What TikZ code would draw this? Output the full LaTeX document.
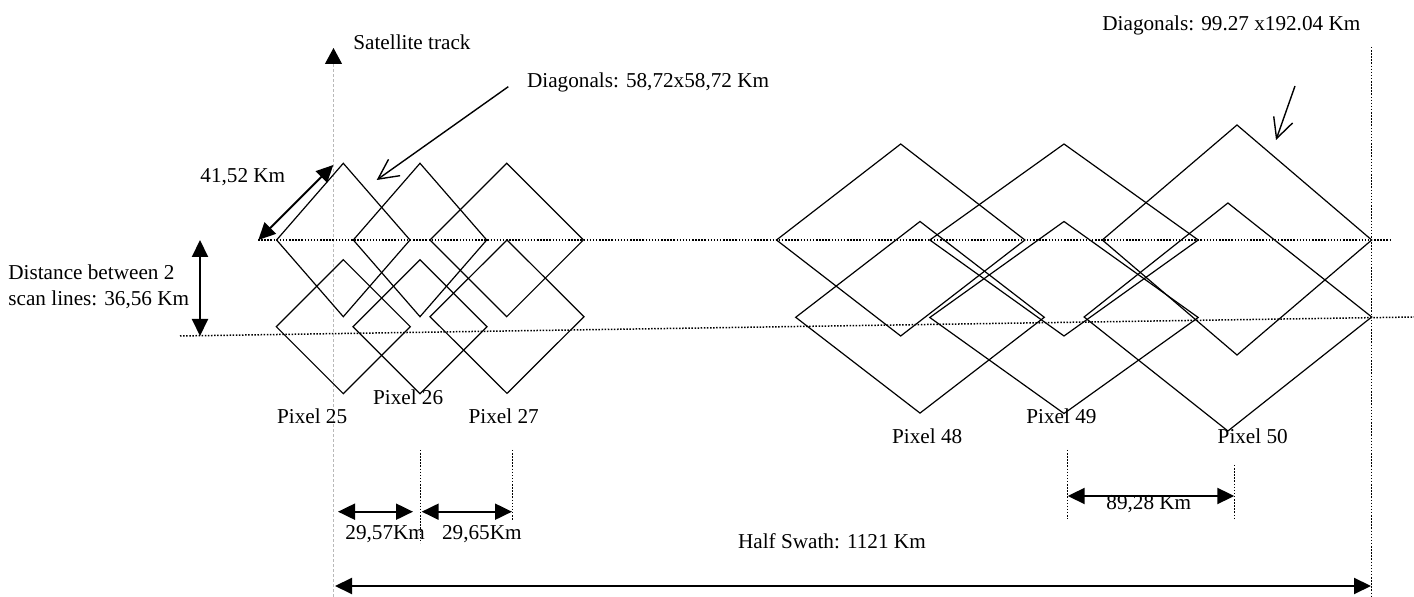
\documentclass[tikz,border=0pt]{standalone}
\usepackage{fontspec}
\setmainfont{Liberation Serif}
\usetikzlibrary{arrows.meta}

\begin{document}
\begin{tikzpicture}[x=0.5pt,y=-0.5pt,line join=miter,
    every node/.style={font=\fontsize{10.6}{13}\selectfont,inner sep=0pt},
    pixelbox/.style={line width=0.6pt},
    scanline/.style={line width=0.75pt,dash pattern=on 0.75pt off 0.8pt},
    dimarrow/.style={line width=1pt,{Triangle[length=8.5pt,width=8pt]}-{Triangle[length=8.5pt,width=8pt]}},
    pointer/.style={line width=0.7pt,-{Straight Barb[length=10pt,width=10pt]}}]
        \useasboundingbox (0,0) rectangle (1414,597);

        % satellite track
        \coordinate (trackB) at (333.5,597);
        \coordinate (trackT) at (333.5,48);
        \draw[gray!55,line width=0.5pt,dash pattern=on 1.5pt off 1pt,
            -{Triangle[color=black,length=8pt,width=8.5pt]}] (trackB) -- (trackT);
        \node[anchor=base west] (trackLbl) at (353,50) {Satellite track};

        % scan lines and swath edge
        \coordinate (scanA1) at (258,240);
        \coordinate (scanA2) at (1392,240);
        \coordinate (scanB1) at (180,336);
        \coordinate (scanB2) at (1414,317);
        \coordinate (edgeT) at (1371.5,47);
        \coordinate (edgeB) at (1371.5,597);
        \draw[scanline] (scanA1) -- (scanA2);
        \draw[scanline] (scanB1) -- (scanB2);
        \draw[scanline] (edgeT) -- (edgeB);

        % pixels
        \foreach \cx/\cy/\hx/\hy in {343.3/240/66.7/76.7, 420/240/66.7/76.7, 506.7/240/76.7/76.7,
                343.3/326.7/67/67, 420/326.7/67/67, 507/316.7/77/76.7,
                900.7/240/124.2/96, 920/317.3/124.3/95.8, 1064/240/134.2/96,
                1064/317.5/134.2/96, 1237/240/134.7/115, 1227.9/317/143.8/114}
            \draw[pixelbox] (\cx-\hx,\cy) -- (\cx,\cy-\hy) -- (\cx+\hx,\cy) -- (\cx,\cy+\hy) -- cycle;

        \node[anchor=base west] (px25) at (276.7,424) {Pixel 25};
        \node[anchor=base west] (px26) at (372.7,405) {Pixel 26};
        \node[anchor=base west] (px27) at (468.3,424) {Pixel 27};
        \node[anchor=base west] (px48) at (891.8,443.3) {Pixel 48};
        \node[anchor=base west] (px49) at (1026,424) {Pixel 49};
        \node[anchor=base west] (px50) at (1217.3,443.3) {Pixel 50};

        % diagonals
        \node[anchor=base west] (diagSmall) at (526.7,87.3) {Diagonals: 58,72x58,72 Km};
        \node[anchor=base west] (diagBig) at (1102,30.7) {Diagonals: 99.27 x192.04 Km};
        \coordinate (ptrA1) at (508.3,86.7);
        \coordinate (ptrA2) at (376.7,180);
        \coordinate (ptrB1) at (1295,86);
        \coordinate (ptrB2) at (1276,140);
        \draw[pointer] (ptrA1) -- (ptrA2);
        \draw[pointer] (ptrB1) -- (ptrB2);

        % side of a pixel
        \coordinate (sideA) at (258.3,240);
        \coordinate (sideB) at (333.3,165);
        \draw[dimarrow] (sideA) -- (sideB);
        \node[anchor=base west] (sideLbl) at (200,182.7) {41,52 Km};

        % distance between scan lines
        \coordinate (gapT) at (200,240);
        \coordinate (gapB) at (200,336);
        \draw[dimarrow] (gapT) -- (gapB);
        \node[anchor=base west,align=left] (gapLbl) at (8,306) {Distance between 2\\scan lines: 36,56 Km};

        % pixel spacing
        \coordinate (tickA1) at (420.7,450);
        \coordinate (tickA2) at (420.7,543);
        \coordinate (tickB1) at (512.3,450);
        \coordinate (tickB2) at (512.3,520);
        \coordinate (tickC1) at (1067.7,450);
        \coordinate (tickC2) at (1067.7,519);
        \coordinate (tickD1) at (1234.3,465);
        \coordinate (tickD2) at (1234.3,519);
        \foreach \t in {A,B,C,D}
            \draw[scanline] (tick\t1) -- (tick\t2);

        \coordinate (spA1) at (338,511.7);
        \coordinate (spA2) at (413,511.7);
        \coordinate (spB1) at (421.7,511.7);
        \coordinate (spB2) at (512,511.7);
        \coordinate (spC1) at (1067.7,496);
        \coordinate (spC2) at (1234.3,496);
        \draw[dimarrow] (spA1) -- (spA2);
        \draw[dimarrow] (spB1) -- (spB2);
        \draw[dimarrow] (spC1) -- (spC2);
        \node[anchor=base west] (spALbl) at (345,540) {29,57Km};
        \node[anchor=base west] (spBLbl) at (441.7,540) {29,65Km};
        \node[anchor=base west] (spCLbl) at (1106,509.3) {89,28 Km};

        % half swath
        \coordinate (swA) at (335,586);
        \coordinate (swB) at (1371,586);
        \draw[dimarrow] (swA) -- (swB);
        \node[anchor=base west] (swLbl) at (737.7,548.3) {Half Swath: 1121 Km};
    \end{tikzpicture}
\end{document}
